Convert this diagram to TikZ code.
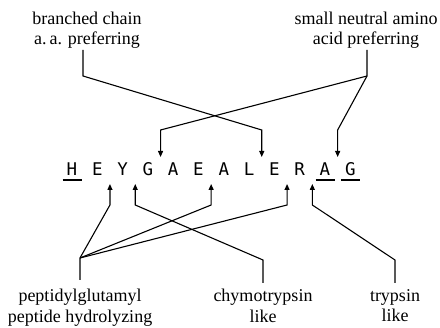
\documentclass[tikz,border=0pt]{standalone}
\usepackage{fontspec}
\setmainfont{Liberation Serif}
\newfontfamily\seqfont{DejaVu Sans Mono}
\usetikzlibrary{calc,arrows.meta}
\begin{document}
\begin{tikzpicture}[x=1pt,y=-1pt,
  lab/.style={font=\fontsize{18}{20.5}\selectfont, align=center, inner sep=0pt},
  res/.style={font=\seqfont\fontsize{17.5}{18}\selectfont, inner sep=0pt, anchor=base},
  conn/.style={line width=1.1pt, line join=miter},
  arr/.style={conn, -{Triangle[length=6pt,width=5pt]}},
  ul/.style={line width=1.1pt}]
\useasboundingbox (0,0) rectangle (440,328);
% sequence
\foreach \l [count=\i from 0] in {H,E,Y,G,A,E,A,L,E,R,A,G}
  \node[res] (r\i) at (72+25.3*\i,176) {\l};
% underlines
\foreach \i in {0,10,11}
  \draw[ul] ($(r\i.base)+(-9.5,4)$) -- ($(r\i.base)+(9.5,4)$);
% cleavage gaps
\foreach \a/\b in {1/2,2/3,3/4,5/6,7/8,8/9,9/10,10/11}
  \coordinate (g\a) at ($(r\a.base)!0.5!(r\b.base)$);
% labels
\node[lab, anchor=south] (bc) at (87,49) {branched chain\\a.\,a. preferring};
\node[lab, anchor=south] (sn) at (366,49) {small neutral amino\\acid preferring};
\node[lab, anchor=north] (pg) at (80,289) {peptidylglutamyl\\peptide hydrolyzing};
\node[lab, anchor=north] (ch) at (263,289) {chymotrypsin\\like};
\node[lab, anchor=north] (tr) at (395,289) {trypsin\\like};
% top connectors
\draw[arr] ($(bc.south)+(-4,1)$) -- ++(0,26) -- ($(g7)+(0,-46)$) -- ($(g7)+(0,-19)$);
\draw[arr] ($(sn.south)+(1,1)$) -- ++(0,26) coordinate (snj) -- ($(g3)+(0,-46)$) -- ($(g3)+(0,-19)$);
\draw[arr] (snj) -- ($(g10)+(0,-46)$) -- ($(g10)+(0,-19)$);
% bottom connectors
\draw[arr] ($(pg.north)+(0,-9)$) -- ++(0,-22) coordinate (pgj) -- ($(g1)+(0,29)$) -- ($(g1)+(0,8)$);
\draw[arr] (pgj) -- ($(g5)+(0,29)$) -- ($(g5)+(0,8)$);
\draw[arr] (pgj) -- ($(g8)+(0,29)$) -- ($(g8)+(0,8)$);
\draw[arr] ($(ch.north)+(0,-6)$) -- ++(0,-23) -- ($(g2)+(0,29)$) -- ($(g2)+(0,8)$);
\draw[arr] ($(tr.north)+(0,-6)$) -- ++(0,-23) -- ($(g9)+(0,29)$) -- ($(g9)+(0,8)$);
\end{tikzpicture}
\end{document}
